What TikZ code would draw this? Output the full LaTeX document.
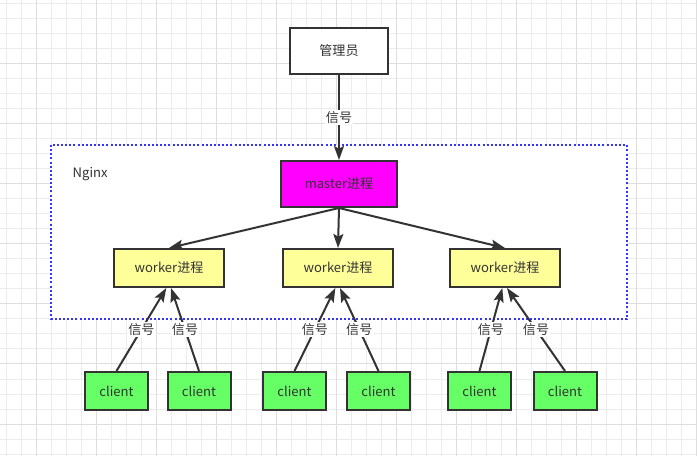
\documentclass[tikz,border=0pt]{standalone}
\usepackage{fontspec}
\setmainfont{Noto Sans CJK SC}
\usepackage{xcolor}
\usepackage{tikz}
\usetikzlibrary{positioning,arrows.meta}
\definecolor{cline}{RGB}{51,51,51}
\definecolor{cmagenta}{RGB}{255,0,255}
\definecolor{cyellow}{RGB}{255,255,153}
\definecolor{cgreen}{RGB}{102,255,102}
\definecolor{cframe}{RGB}{51,51,255}
\definecolor{cgrid}{RGB}{236,236,236}
\definecolor{cgridd}{RGB}{222,222,222}
\tikzset{
  box/.style={draw=cline, line width=1.5pt, align=center, inner sep=2pt, font=\fontsize{9.8}{11}\selectfont, text=cline},
  adminbox/.style={box, fill=white, minimum width=73.5pt, minimum height=34.5pt},
  masterbox/.style={box, fill=cmagenta, minimum width=87pt, minimum height=34.5pt},
  workerbox/.style={box, fill=cyellow, minimum width=82.5pt, minimum height=28.5pt},
  clientbox/.style={box, fill=cgreen, minimum width=47.25pt, minimum height=28.5pt},
  arr/.style={-{Stealth[length=10.5pt, width=7.5pt, inset=2pt]}, line width=1.5pt, draw=cline},
  sig/.style={fill=white, inner sep=1pt, font=\fontsize{9.8}{11}\selectfont, text=cline},
}

\begin{document}
\begin{tikzpicture}[x=0.75pt, y=-0.75pt]
    % background grid
    \useasboundingbox (0,0) rectangle (697,456);
    \fill[white] (0,0) rectangle (697,456);
    \foreach \gx in {6,21,...,696} \draw[cgrid, line width=0.75pt] (\gx,0) -- (\gx,456);
    \foreach \gy in {4,19,...,455} \draw[cgrid, line width=0.75pt] (0,\gy) -- (697,\gy);
    \foreach \gx in {36,96,...,696} \draw[cgridd, line width=0.75pt] (\gx,0) -- (\gx,456);
    \foreach \gy in {64,124,...,455} \draw[cgridd, line width=0.75pt] (0,\gy) -- (697,\gy);

    % Nginx frame
    \fill[white] (51,145) rectangle (627,319);
    \draw[cframe, line width=1.5pt, dash pattern=on 1.5pt off 1.6pt] (51,145) rectangle (627,319);
    \node[font=\fontsize{9.8}{11}\selectfont, text=cline, anchor=west] (nginx) at (68,174) {Nginx};

    \node[adminbox] (admin) at (339,51) {管理员};
    \node[masterbox] (master) at (339,184) {master进程};
    \node[workerbox] (w1) at (169,268) {worker进程};
    \node[workerbox] (w2) at (338,268) {worker进程};
    \node[workerbox] (w3) at (505,268) {worker进程};

    \node[clientbox] (c1) at (116.5,391) {client};
    \node[clientbox] (c2) at (199,391) {client};
    \node[clientbox] (c3) at (294.5,391) {client};
    \node[clientbox] (c4) at (378.5,391) {client};
    \node[clientbox] (c5) at (479.5,391) {client};
    \node[clientbox] (c6) at (565,391) {client};

    \draw[arr] (admin.south) -- node[sig] {信号} (master.north);
    \draw[arr] (master.south) -- (w1.north);
    \draw[arr] (master.south) -- (w2.north);
    \draw[arr] (master.south) -- (w3.north);

    \draw[arr] (c1.north) -- node[sig] {信号} ([xshift=-2pt]w1.south);
    \draw[arr] (c2.north) -- node[sig] {信号} ([xshift=1.5pt]w1.south);
    \draw[arr] (c3.north) -- node[sig] {信号} ([xshift=-2pt]w2.south);
    \draw[arr] (c4.north) -- node[sig] {信号} ([xshift=1.5pt]w2.south);
    \draw[arr] (c5.north) -- node[sig] {信号} ([xshift=-2pt]w3.south);
    \draw[arr] (c6.north) -- node[sig] {信号} ([xshift=1.5pt]w3.south);
  \end{tikzpicture}
\end{document}
